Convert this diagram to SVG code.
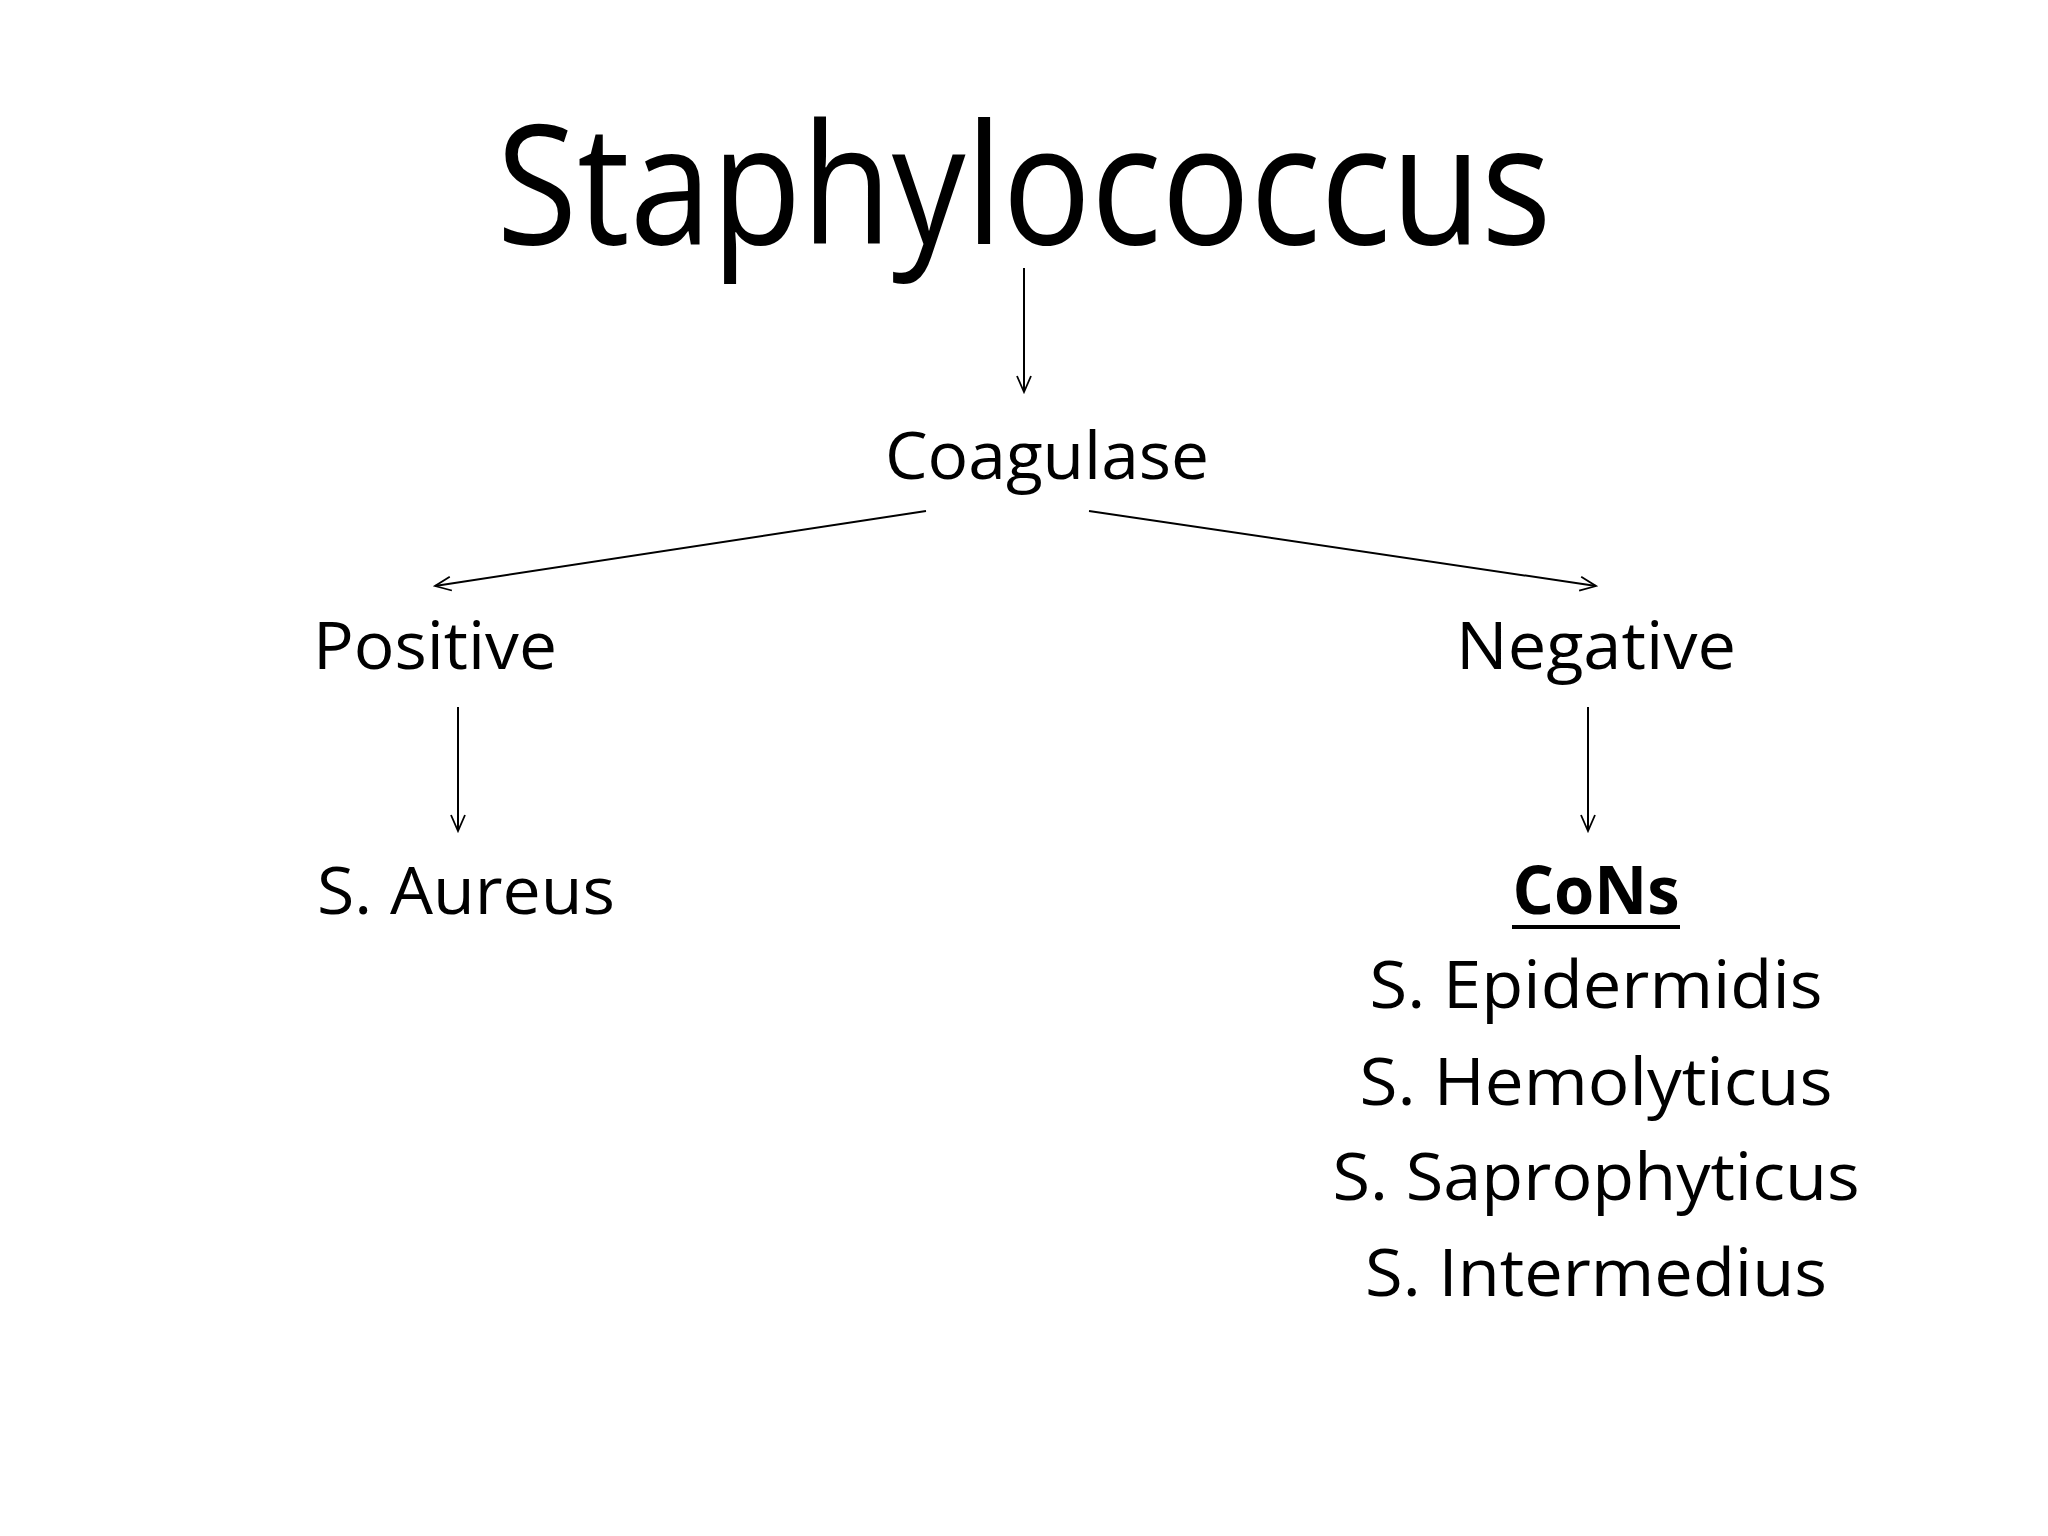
<svg xmlns="http://www.w3.org/2000/svg" width="2048" height="1536" viewBox="0 0 2048 1536">
<defs>
<marker id="ah" viewBox="0 0 20 20" refX="18" refY="10" markerWidth="20" markerHeight="20" markerUnits="userSpaceOnUse" orient="auto">
<path d="M2,3 L18,10 L2,17" fill="none" stroke="#000" stroke-width="1.8"/>
</marker>
</defs>
<style>
text{font-family:"Open Sans","Noto Sans",sans-serif;fill:#000;text-anchor:middle}
.c line{stroke:#000;stroke-width:2;marker-end:url(#ah)}
.m{font-size:66px}
</style>
<rect width="2048" height="1536" fill="#fff"/>
<g id="title"><text x="1024" y="244" font-size="166" textLength="1055" lengthAdjust="spacingAndGlyphs">Staphylococcus</text></g>
<g id="coagulase"><text class="m" x="1047" y="479" textLength="324" lengthAdjust="spacingAndGlyphs">Coagulase</text></g>
<g id="positive"><text class="m" x="435" y="669" textLength="244" lengthAdjust="spacingAndGlyphs">Positive</text></g>
<g id="negative"><text class="m" x="1596" y="669" textLength="280" lengthAdjust="spacingAndGlyphs">Negative</text></g>
<g id="aureus"><text class="m" x="466" y="914" textLength="298" lengthAdjust="spacingAndGlyphs">S. Aureus</text></g>
<g id="cons">
<text class="m" x="1596" y="914" font-weight="bold" textLength="167" lengthAdjust="spacingAndGlyphs">CoNs</text>
<line x1="1512" y1="927" x2="1680" y2="927" stroke="#000" stroke-width="4"/>
<text class="m" x="1596" y="1008" textLength="453" lengthAdjust="spacingAndGlyphs">S. Epidermidis</text>
<text class="m" x="1596" y="1105" textLength="473" lengthAdjust="spacingAndGlyphs">S. Hemolyticus</text>
<text class="m" x="1596" y="1200" textLength="527" lengthAdjust="spacingAndGlyphs">S. Saprophyticus</text>
<text class="m" x="1596" y="1296" textLength="462" lengthAdjust="spacingAndGlyphs">S. Intermedius</text>
</g>
<g id="connectors" class="c">
<line x1="1024" y1="268" x2="1024" y2="392"/>
<line x1="926" y1="511" x2="435" y2="586"/>
<line x1="1089" y1="511" x2="1596" y2="586"/>
<line x1="458" y1="707" x2="458" y2="831"/>
<line x1="1588" y1="707" x2="1588" y2="831"/>
</g>
</svg>
